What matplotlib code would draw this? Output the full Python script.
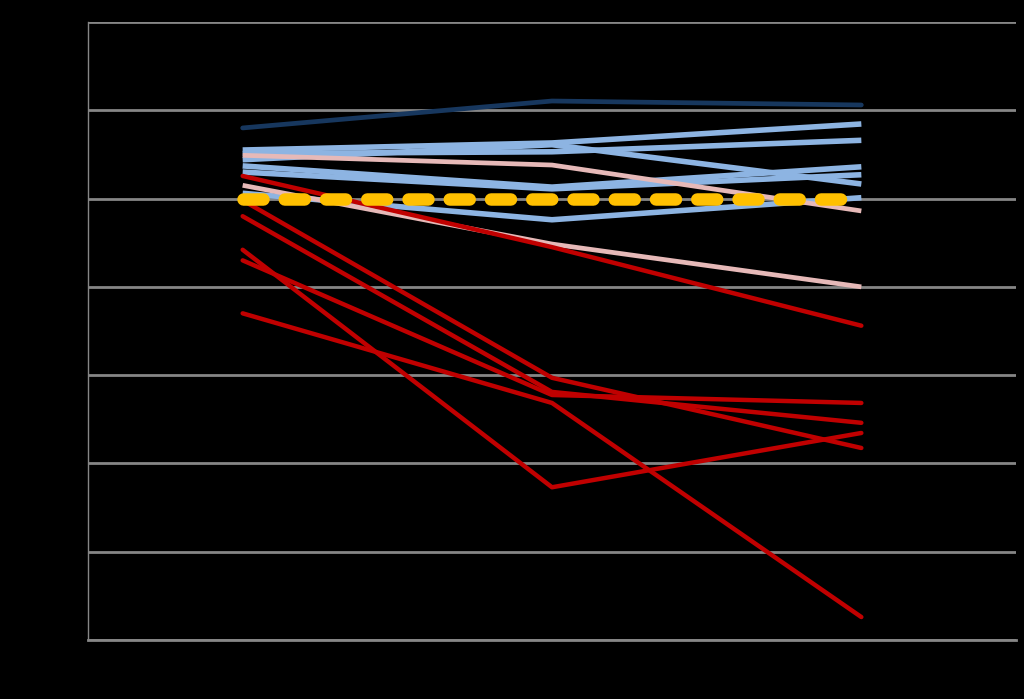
import matplotlib.pyplot as plt

# three periods on a category axis, index values (100 = baseline)
periods = ["P1", "P2", "P3"]

navy_series = [108.0, 111.05, 110.6]
baseline = [100, 100, 100]

blue_series = [
    [105.5, 106.3, 108.45],
    [105.1, 105.3, 106.6],
    [104.4, 106.1, 101.65],
    [103.7, 101.3, 103.6],
    [103.0, 101.1, 102.7],
    [100.6, 97.6, 100.1],
]

pink_series = [
    [104.9, 103.8, 98.6],
    [101.5, 94.85, 90.0],
]

red_series = [
    [102.56, 94.5, 85.6],
    [99.8, 79.7, 71.75],
    [98.0, 78.1, 74.6],
    [93.0, 77.75, 76.85],
    [87.0, 76.85, 52.6],
    [94.2, 67.3, 73.45],
]

fig = plt.figure(figsize=(10.24, 6.99), dpi=100, facecolor="black")
ax = fig.add_axes([88 / 1024, 1 - 640 / 699, 928 / 1024, 618 / 699])
ax.set_facecolor("black")

x = list(range(len(periods)))

for s in blue_series:
    ax.plot(x, s, color="#8DB4E2", lw=4.0, solid_capstyle="butt", zorder=3)
for s in pink_series:
    ax.plot(x, s, color="#E6B9B8", lw=3.4, solid_capstyle="butt", zorder=3)
for s in red_series:
    ax.plot(x, s, color="#C00000", lw=3.2, solid_capstyle="round", zorder=4)
ax.plot(x, navy_series, color="#17375E", lw=3.4, solid_capstyle="round", zorder=5)

yl, = ax.plot(x, baseline, color="#FFC000", lw=9, zorder=6,
              dash_capstyle="round")
yl.set_dashes((1.6, 1.7))

ax.set_xlim(-0.5, 2.5)
ax.set_ylim(50, 120)
ax.set_yticks(range(50, 121, 10))
ax.yaxis.grid(True, color="#868686", lw=2)
ax.set_axisbelow(True)

ax.set_xticks(x)
ax.set_xticklabels(periods, color="black")
ax.tick_params(length=0, labelcolor="black")

for side in ["top", "right"]:
    ax.spines[side].set_visible(False)
ax.spines["left"].set_color("#868686")
ax.spines["left"].set_linewidth(1)
ax.spines["bottom"].set_color("#868686")
ax.spines["bottom"].set_linewidth(2)

fig.savefig("out.png", dpi=100, facecolor="black")
